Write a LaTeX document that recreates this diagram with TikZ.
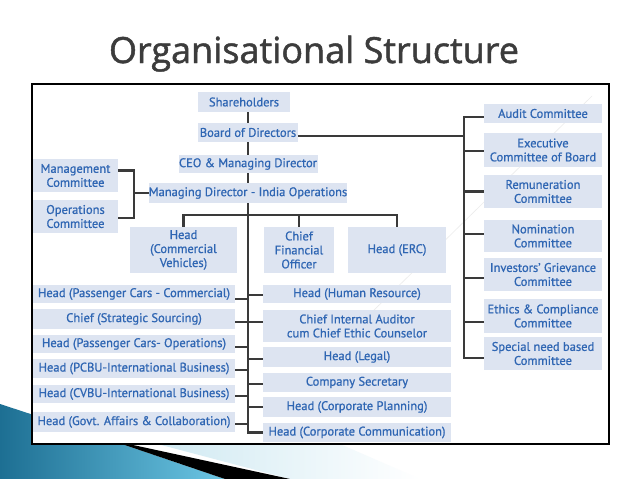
\documentclass[tikz,border=0pt]{standalone}
\usepackage{fontspec}
\setmainfont{PT Sans}[FakeBold=0.9]
\newfontfamily\titlefont{Open Sans}[FakeBold=1.3]
\definecolor{boxfill}{HTML}{DDE4F1}
\definecolor{boxtext}{HTML}{2F66B3}
\definecolor{linec}{HTML}{3A3A3A}
\definecolor{titlec}{HTML}{3C3C3C}
\definecolor{decdark}{HTML}{1D6F93}
\definecolor{declight}{HTML}{6CC6E4}
\definecolor{decpale}{HTML}{CFE9F2}
\begin{document}
\begin{tikzpicture}[x=1pt,y=-1pt,
  box/.style={fill=boxfill, text=boxtext, inner sep=0pt, align=center,
    font=\fontsize{12.5}{14}\selectfont},
  conn/.style={draw=linec, line width=2.2pt}]
\useasboundingbox (0,0) rectangle (638,479);
\fill[white] (0,0) rectangle (638,479);
% bottom-left decoration
\shade[left color=decdark, right color=declight] (0,404) -- (110,440) -- (225,479) -- (0,479) -- cycle;
\shade[left color=decpale, right color=white] (150,442) -- (340,444) -- (420,479) -- (290,479) -- cycle;
\fill[black] (110,440) -- (290,479) -- (225,479) -- cycle;
% title
\node[font=\titlefont\fontsize{36}{40}\selectfont, text=titlec, anchor=base] (title) at (314,63) {Organisational Structure};
% frame
\fill[white] (32,84) rectangle (609,444);
\draw[black, line width=1.1pt] (32,84) rectangle (609,444);
\draw[gray!15, line width=0.6pt] (592,96) -- (370,314);
% main column
\node[box, minimum width=92pt, minimum height=20pt] (sh) at (244,102) {Shareholders};
\node[box, minimum width=100pt, minimum height=19pt] (bod) at (248,132.5) {Board of Directors};
\node[box, minimum width=139pt, minimum height=18pt] (ceo) at (248,164) {CEO \& Managing Director};
\node[box, minimum width=196pt, minimum height=20pt] (md) at (248,193) {Managing Director - India Operations};
% left committees
\node[box, minimum width=85pt, minimum height=33pt] (mgmt) at (75.5,175.5) {Management\\Committee};
\node[box, minimum width=85pt, minimum height=33pt] (ops) at (75.5,216.5) {Operations\\Committee};
% second level
\node[box, minimum width=107pt, minimum height=46pt] (hcv) at (183.5,250) {Head\\(Commercial\\Vehicles)};
\node[box, minimum width=70pt, minimum height=46pt] (cfo) at (299,250) {Chief\\Financial\\Officer};
\node[box, minimum width=98pt, minimum height=46pt] (erc) at (397,250) {Head (ERC)};
% right committees
\node[box, minimum width=118pt, minimum height=19pt] (audit) at (543,113.5) {Audit Committee};
\node[box, minimum width=118pt, minimum height=34pt] (exec) at (543,150) {Executive\\Committee of Board};
\node[box, minimum width=118pt, minimum height=33pt] (remun) at (543,191.5) {Remuneration\\Committee};
\node[box, minimum width=118pt, minimum height=32pt] (nom) at (543,236) {Nomination\\Committee};
\node[box, minimum width=118pt, minimum height=33pt] (inv) at (543,274.5) {Investors' Grievance\\Committee};
\node[box, minimum width=118pt, minimum height=34pt] (eth) at (543,316) {Ethics \& Compliance\\Committee};
\node[box, minimum width=118pt, minimum height=33pt] (spec) at (543,353.5) {Special need based\\Committee};
% left lower column
\node[box, minimum width=202pt, minimum height=18pt] (pcc) at (134,294) {Head (Passenger Cars - Commercial)};
\node[box, minimum width=202pt, minimum height=20pt] (css) at (134,319) {Chief (Strategic Sourcing)};
\node[box, minimum width=202pt, minimum height=18pt] (pco) at (134,344) {Head (Passenger Cars- Operations)};
\node[box, minimum width=202pt, minimum height=19pt] (pcbu) at (134,368.5) {Head (PCBU-International Business)};
\node[box, minimum width=202pt, minimum height=18pt] (cvbu) at (134,394) {Head (CVBU-International Business)};
\node[box, minimum width=202pt, minimum height=20pt] (govt) at (134,422) {Head (Govt. Affairs \& Collaboration)};
% right lower column
\node[box, minimum width=188pt, minimum height=18pt] (hr) at (357,294) {Head (Human Resource)};
\node[box, minimum width=188pt, minimum height=32pt] (cia) at (357,326) {Chief Internal Auditor\\cum Chief Ethic Counselor};
\node[box, minimum width=188pt, minimum height=20pt] (legal) at (357,357) {Head (Legal)};
\node[box, minimum width=188pt, minimum height=19pt] (cs) at (357,382.5) {Company Secretary};
\node[box, minimum width=188pt, minimum height=20pt] (cp) at (357,407) {Head (Corporate Planning)};
\node[box, minimum width=188pt, minimum height=19pt] (cc) at (357,432.5) {Head (Corporate Communication)};
% helper coordinates
\coordinate (hl) at (0,215);
\coordinate (brk) at (134,0);
\coordinate (rt) at (464,0);
% connectors: main column
\draw[conn] (bod.north |- sh.south) -- (bod.north);
\draw[conn] (bod.south) -- (ceo.north);
\draw[conn] (ceo.south) -- (md.north);
\draw[conn] (md.south) |- (cc.west);
% second level
\draw[conn] (hcv.north) |- (erc.north |- hl) -- (erc.north);
\draw[conn] (cfo.north) -- (cfo.north |- hl);
% left bracket
\path ([yshift=5pt]mgmt.east) coordinate (m1);
\path ([yshift=-1.5pt]ops.east) coordinate (o1);
\draw[conn] (m1) -| (brk |- o1) -- (o1);
\draw[conn] (md.west) -- (brk |- md.west);
% board to right committees
\path ([yshift=-3.5pt]bod.east) coordinate (b1);
\draw[conn] (b1) -- (b1 -| rt);
\path ([yshift=-3.5pt]audit.west) coordinate (a1);
\path ([yshift=-4.5pt]spec.west) coordinate (s1);
\draw[conn] (a1) -| (rt |- s1) -- (s1);
\path ([yshift=-1pt]exec.west) coordinate (e1);
\draw[conn] (e1) -- (e1 -| rt);
\draw[conn] (remun.west) -- (remun.west -| rt);
\path ([yshift=2pt]nom.west) coordinate (n1);
\draw[conn] (n1) -- (n1 -| rt);
\path ([yshift=-3.5pt]inv.west) coordinate (i1);
\draw[conn] (i1) -- (i1 -| rt);
\path ([yshift=-6pt]eth.west) coordinate (t1);
\draw[conn] (t1) -- (t1 -| rt);
% left lower column
\foreach \n/\s in {pcc/-5pt, css/-3pt, pco/-3pt, pcbu/-1.5pt, cvbu/-2pt, govt/-2pt} {
  \path ([yshift=\s]\n.east) coordinate (lx);
  \draw[conn] (lx) -- (lx -| md.south);
}
% right lower column
\foreach \n/\s in {hr/-1pt, cia/4pt, legal/-2pt, cs/-1.5pt, cp/0pt} {
  \path ([yshift=\s]\n.west) coordinate (rx);
  \draw[conn] (rx) -- (rx -| md.south);
}
\end{tikzpicture}
\end{document}
